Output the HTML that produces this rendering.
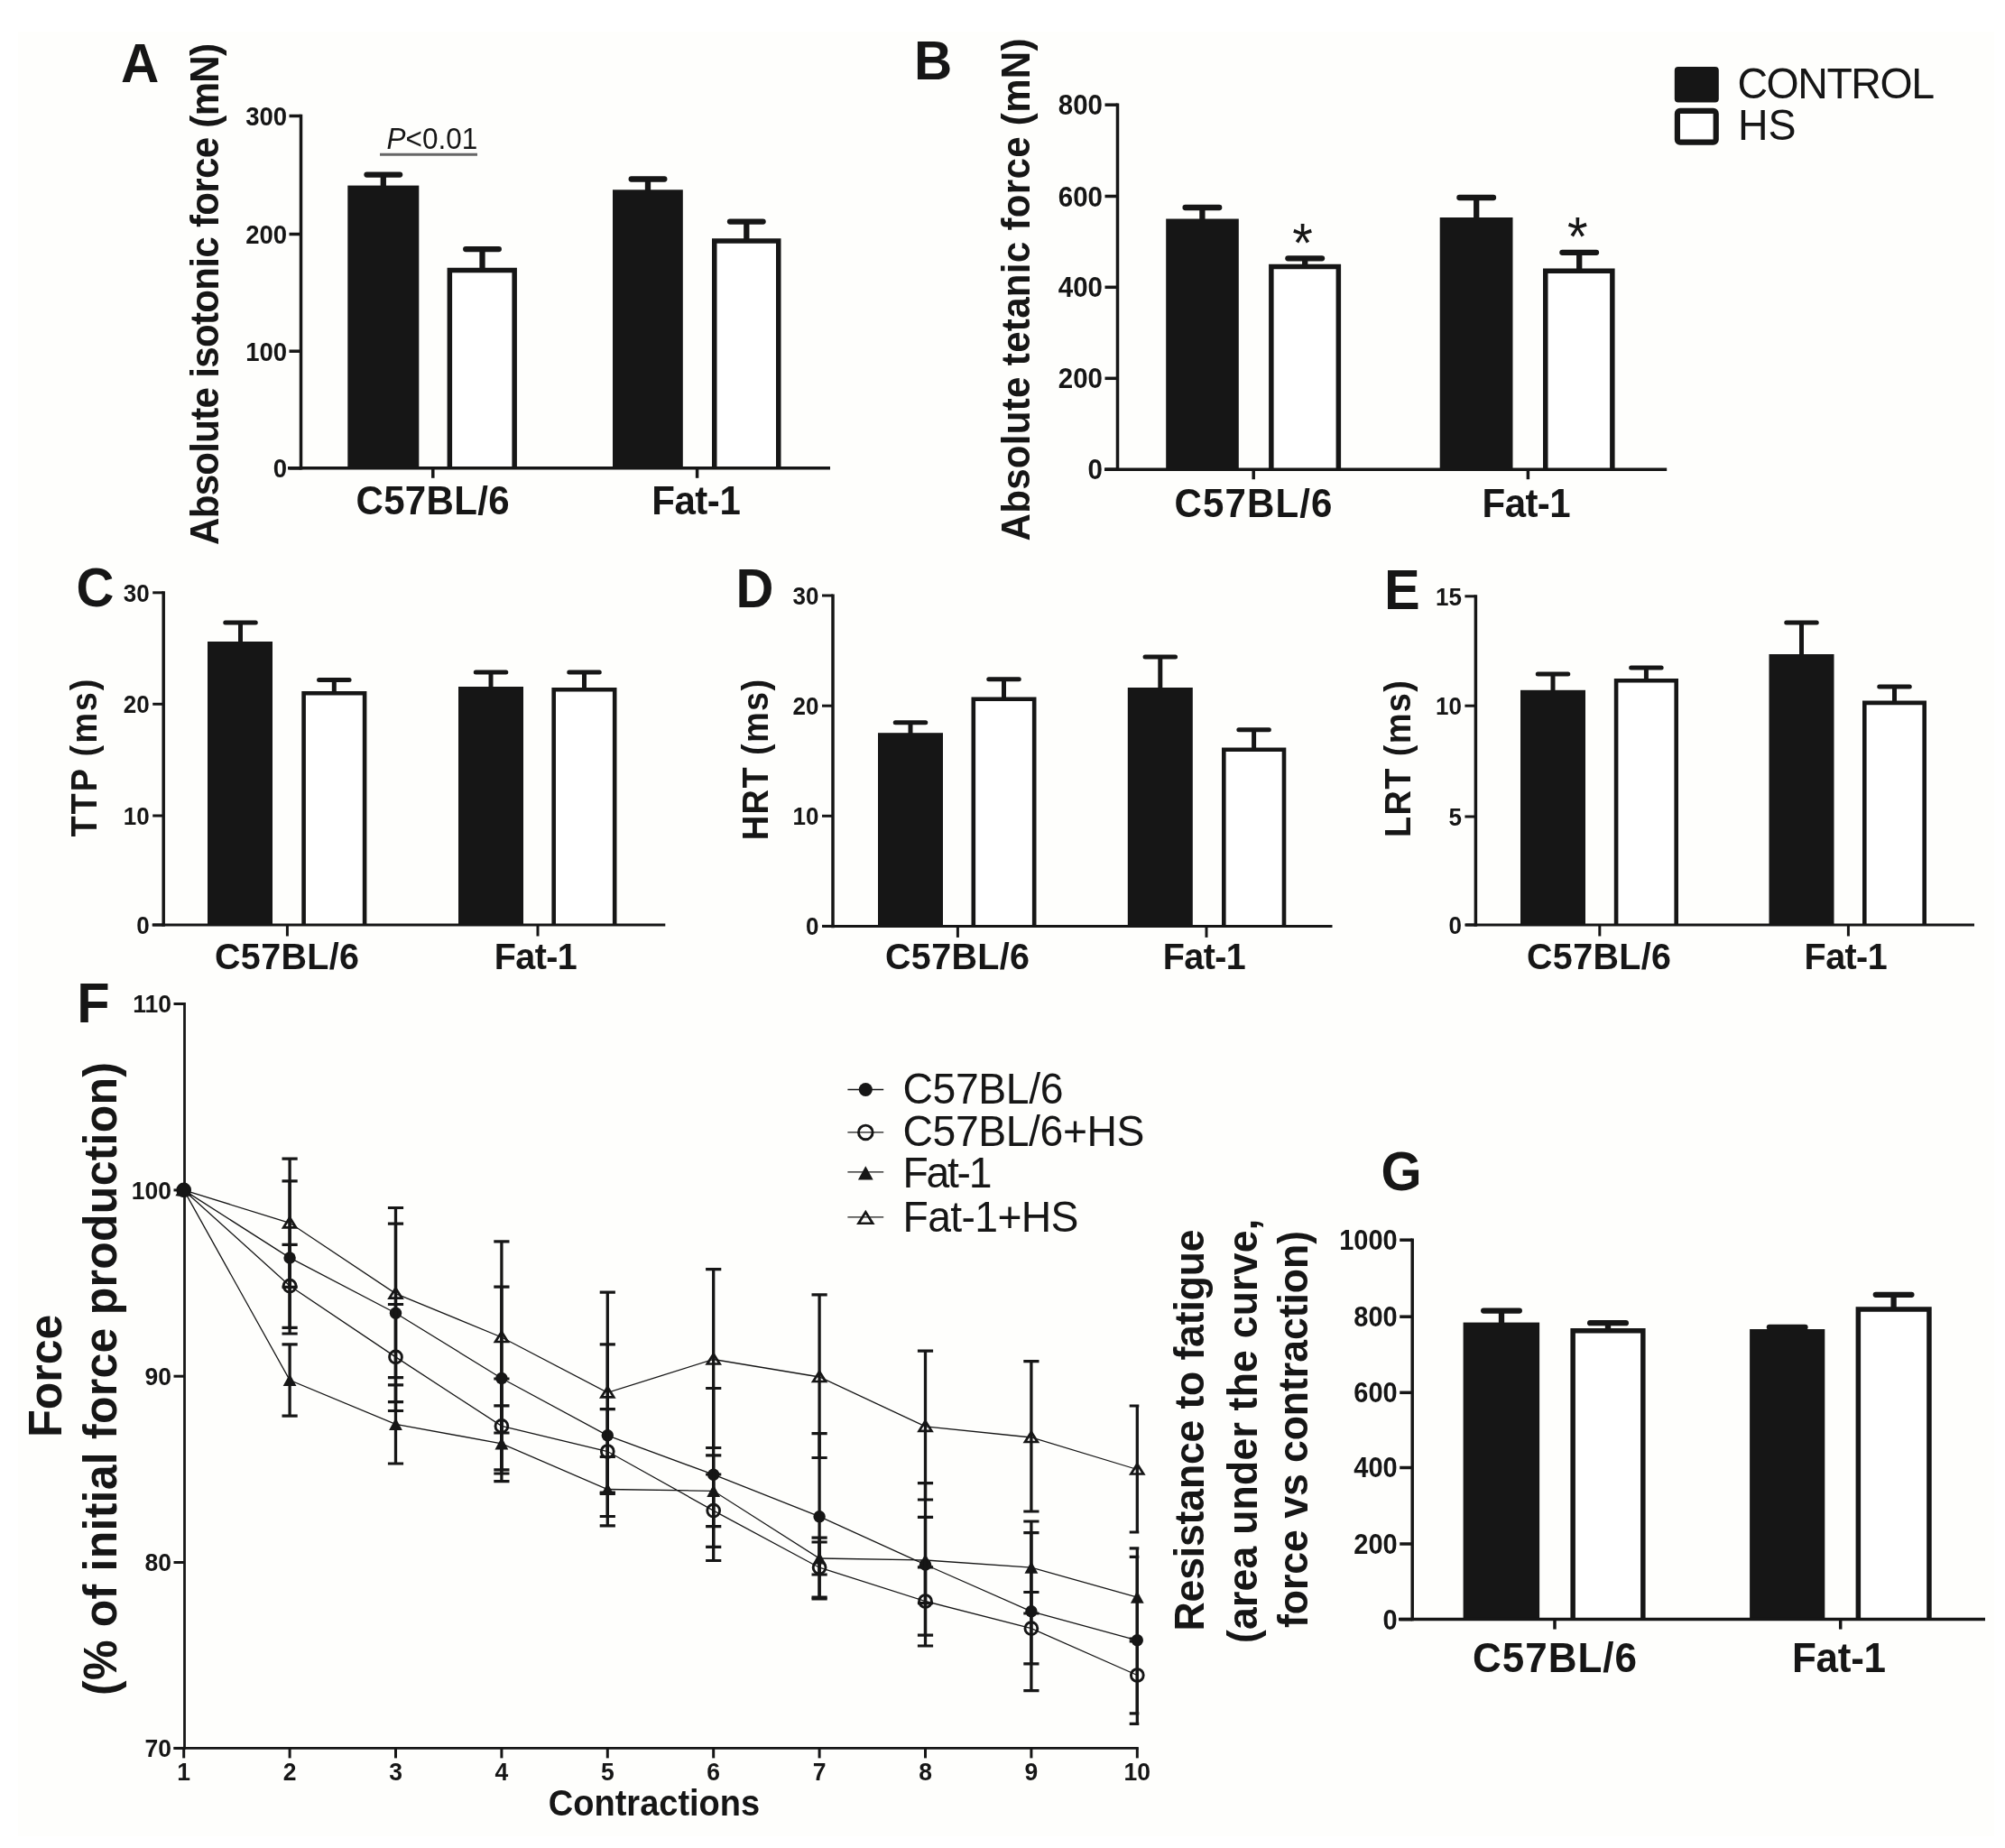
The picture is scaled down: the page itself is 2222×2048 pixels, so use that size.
<!DOCTYPE html>
<html lang="en"><head><meta charset="utf-8"><title>Figure</title>
<style>
html,body{margin:0;padding:0;background:#ffffff;}
body{width:2222px;height:2048px;overflow:hidden;}
svg{display:block;font-family:"Liberation Sans", Arial, Helvetica, sans-serif;filter:blur(0.75px);}
text{font-family:"Liberation Sans", Arial, Helvetica, sans-serif;}
</style></head><body>
<svg width="2222" height="2048" viewBox="0 0 2222 2048">
<rect x="0" y="0" width="2222" height="2048" fill="#ffffff"/>
<rect x="20" y="35" width="2190" height="2000" fill="#fefefc"/>
<rect x="385.3" y="205.6" width="79" height="313.2" fill="#161616"/>
<path d="M498.35 518.8V299.55H570.15V518.8" fill="#ffffff" stroke="#161616" stroke-width="5.5" stroke-linejoin="miter"/>
<rect x="679" y="210.3" width="77.8" height="308.5" fill="#161616"/>
<path d="M791.75 518.8V267.05H862.75V518.8" fill="#ffffff" stroke="#161616" stroke-width="5.5" stroke-linejoin="miter"/>
<line x1="424.8" y1="193.6" x2="424.8" y2="207" stroke="#161616" stroke-width="6.3" stroke-linecap="butt"/>
<line x1="406.5" y1="193.6" x2="443.1" y2="193.6" stroke="#161616" stroke-width="6.3" stroke-linecap="round"/>
<line x1="534.5" y1="276.1" x2="534.5" y2="298" stroke="#161616" stroke-width="6.3" stroke-linecap="butt"/>
<line x1="516.21" y1="276.1" x2="552.79" y2="276.1" stroke="#161616" stroke-width="6.3" stroke-linecap="round"/>
<line x1="718" y1="198.5" x2="718" y2="212" stroke="#161616" stroke-width="6.3" stroke-linecap="butt"/>
<line x1="699.71" y1="198.5" x2="736.29" y2="198.5" stroke="#161616" stroke-width="6.3" stroke-linecap="round"/>
<line x1="827.3" y1="245.6" x2="827.3" y2="266" stroke="#161616" stroke-width="6.3" stroke-linecap="butt"/>
<line x1="809" y1="245.6" x2="845.59" y2="245.6" stroke="#161616" stroke-width="6.3" stroke-linecap="round"/>
<line x1="333.5" y1="126.75" x2="333.5" y2="520.55" stroke="#161616" stroke-width="3.5" stroke-linecap="butt"/>
<line x1="319" y1="518.8" x2="920" y2="518.8" stroke="#161616" stroke-width="3.5" stroke-linecap="butt"/>
<line x1="320.5" y1="128.5" x2="333.5" y2="128.5" stroke="#161616" stroke-width="3.5" stroke-linecap="butt"/>
<text font-size="27.5" font-weight="bold" text-anchor="end" fill="#161616" transform="translate(318 138.84) scale(1 1.05)">300</text>
<line x1="320.5" y1="259.5" x2="333.5" y2="259.5" stroke="#161616" stroke-width="3.5" stroke-linecap="butt"/>
<text font-size="27.5" font-weight="bold" text-anchor="end" fill="#161616" transform="translate(318 269.84) scale(1 1.05)">200</text>
<line x1="320.5" y1="389.2" x2="333.5" y2="389.2" stroke="#161616" stroke-width="3.5" stroke-linecap="butt"/>
<text font-size="27.5" font-weight="bold" text-anchor="end" fill="#161616" transform="translate(318 399.54) scale(1 1.05)">100</text>
<line x1="320.5" y1="518.8" x2="333.5" y2="518.8" stroke="#161616" stroke-width="3.5" stroke-linecap="butt"/>
<text font-size="27.5" font-weight="bold" text-anchor="end" fill="#161616" transform="translate(318 529.14) scale(1 1.05)">0</text>
<line x1="479.8" y1="518.8" x2="479.8" y2="529.8" stroke="#161616" stroke-width="3.5" stroke-linecap="butt"/>
<line x1="772.6" y1="518.8" x2="772.6" y2="529.8" stroke="#161616" stroke-width="3.5" stroke-linecap="butt"/>
<text font-size="42" font-weight="bold" text-anchor="middle" fill="#161616" textLength="170" lengthAdjust="spacing" transform="translate(479.5 570.3) scale(1 1.05)">C57BL/6</text>
<text font-size="42" font-weight="bold" text-anchor="middle" fill="#161616" textLength="98.5" lengthAdjust="spacing" transform="translate(771.5 570.3) scale(1 1.05)">Fat-1</text>
<text font-size="42" font-weight="bold" text-anchor="middle" fill="#161616" textLength="556" lengthAdjust="spacing" transform="translate(241.5 326) rotate(-90) scale(1 1.05)">Absolute isotonic force (mN)</text>
<text font-size="58.5" font-weight="bold" text-anchor="start" fill="#161616" transform="translate(134 90.6) scale(1 1.05)">A</text>
<text font-size="31.5" font-weight="normal" text-anchor="start" fill="#161616" transform="translate(428.5 165.2) scale(1 1.05)"><tspan font-style="italic">P</tspan>&lt;0.01</text>
<line x1="421" y1="171.2" x2="529" y2="171.2" stroke="#666666" stroke-width="3" stroke-linecap="butt"/>
<rect x="1292.2" y="242.5" width="80.6" height="277.7" fill="#161616"/>
<path d="M1408.85 520.2V295.55H1483.35V520.2" fill="#ffffff" stroke="#161616" stroke-width="5.5" stroke-linejoin="miter"/>
<rect x="1595.7" y="241" width="80.8" height="279.2" fill="#161616"/>
<path d="M1712.75 520.2V300.25H1786.85V520.2" fill="#ffffff" stroke="#161616" stroke-width="5.5" stroke-linejoin="miter"/>
<line x1="1332.4" y1="230" x2="1332.4" y2="244" stroke="#161616" stroke-width="6.3" stroke-linecap="butt"/>
<line x1="1313.61" y1="230" x2="1351.2" y2="230" stroke="#161616" stroke-width="6.3" stroke-linecap="round"/>
<line x1="1446.2" y1="286.3" x2="1446.2" y2="295" stroke="#161616" stroke-width="6.3" stroke-linecap="butt"/>
<line x1="1427.4" y1="286.3" x2="1465" y2="286.3" stroke="#161616" stroke-width="6.3" stroke-linecap="round"/>
<line x1="1636.2" y1="219" x2="1636.2" y2="243" stroke="#161616" stroke-width="6.3" stroke-linecap="butt"/>
<line x1="1617.4" y1="219" x2="1655" y2="219" stroke="#161616" stroke-width="6.3" stroke-linecap="round"/>
<line x1="1750.2" y1="279.8" x2="1750.2" y2="300" stroke="#161616" stroke-width="6.3" stroke-linecap="butt"/>
<line x1="1731.4" y1="279.8" x2="1769" y2="279.8" stroke="#161616" stroke-width="6.3" stroke-linecap="round"/>
<line x1="1238.5" y1="114.45" x2="1238.5" y2="521.95" stroke="#161616" stroke-width="3.5" stroke-linecap="butt"/>
<line x1="1224" y1="520.2" x2="1847.2" y2="520.2" stroke="#161616" stroke-width="3.5" stroke-linecap="butt"/>
<line x1="1224.5" y1="116.2" x2="1238.5" y2="116.2" stroke="#161616" stroke-width="3.5" stroke-linecap="butt"/>
<text font-size="29.5" font-weight="bold" text-anchor="end" fill="#161616" transform="translate(1222 127.29) scale(1 1.05)">800</text>
<line x1="1224.5" y1="217.5" x2="1238.5" y2="217.5" stroke="#161616" stroke-width="3.5" stroke-linecap="butt"/>
<text font-size="29.5" font-weight="bold" text-anchor="end" fill="#161616" transform="translate(1222 228.59) scale(1 1.05)">600</text>
<line x1="1224.5" y1="318.3" x2="1238.5" y2="318.3" stroke="#161616" stroke-width="3.5" stroke-linecap="butt"/>
<text font-size="29.5" font-weight="bold" text-anchor="end" fill="#161616" transform="translate(1222 329.39) scale(1 1.05)">400</text>
<line x1="1224.5" y1="419.3" x2="1238.5" y2="419.3" stroke="#161616" stroke-width="3.5" stroke-linecap="butt"/>
<text font-size="29.5" font-weight="bold" text-anchor="end" fill="#161616" transform="translate(1222 430.39) scale(1 1.05)">200</text>
<line x1="1224.5" y1="520.2" x2="1238.5" y2="520.2" stroke="#161616" stroke-width="3.5" stroke-linecap="butt"/>
<text font-size="29.5" font-weight="bold" text-anchor="end" fill="#161616" transform="translate(1222 531.29) scale(1 1.05)">0</text>
<line x1="1389.2" y1="520.2" x2="1389.2" y2="531.2" stroke="#161616" stroke-width="3.5" stroke-linecap="butt"/>
<line x1="1693.4" y1="520.2" x2="1693.4" y2="531.2" stroke="#161616" stroke-width="3.5" stroke-linecap="butt"/>
<text font-size="42" font-weight="bold" text-anchor="middle" fill="#161616" textLength="175" lengthAdjust="spacing" transform="translate(1388.9 573) scale(1 1.05)">C57BL/6</text>
<text font-size="42" font-weight="bold" text-anchor="middle" fill="#161616" textLength="98" lengthAdjust="spacing" transform="translate(1691.6 573) scale(1 1.05)">Fat-1</text>
<text font-size="42" font-weight="bold" text-anchor="middle" fill="#161616" textLength="557" lengthAdjust="spacing" transform="translate(1140.5 321) rotate(-90) scale(1 1.05)">Absolute tetanic force (mN)</text>
<text font-size="58.5" font-weight="bold" text-anchor="start" fill="#161616" transform="translate(1013 88.4) scale(1 1.05)">B</text>
<text font-size="58" font-weight="normal" text-anchor="middle" fill="#161616" transform="translate(1443.6 290.3) scale(1 1.05)">*</text>
<text font-size="58" font-weight="normal" text-anchor="middle" fill="#161616" transform="translate(1748.4 283) scale(1 1.05)">*</text>
<rect x="1855.8" y="74" width="49" height="39.5" rx="4" fill="#161616"/>
<rect x="1858.9" y="122.9" width="42.8" height="34.8" rx="3" fill="#ffffff" stroke="#161616" stroke-width="6.2"/>
<text font-size="46.5" font-weight="normal" text-anchor="start" fill="#161616" textLength="218.5" lengthAdjust="spacing" transform="translate(1925.5 108.7) scale(1 1.05)">CONTROL</text>
<text font-size="46.5" font-weight="normal" text-anchor="start" fill="#161616" transform="translate(1926 155) scale(1 1.05)">HS</text>
<rect x="230" y="711" width="72" height="314" fill="#161616"/>
<path d="M336.6 1025V768.3H404.1V1025" fill="#ffffff" stroke="#161616" stroke-width="4.6" stroke-linejoin="miter"/>
<rect x="508" y="761" width="72" height="264" fill="#161616"/>
<path d="M613.7 1025V764.3H681.2V1025" fill="#ffffff" stroke="#161616" stroke-width="4.6" stroke-linejoin="miter"/>
<line x1="266.5" y1="690" x2="266.5" y2="712" stroke="#161616" stroke-width="5" stroke-linecap="butt"/>
<line x1="249.75" y1="690" x2="283.25" y2="690" stroke="#161616" stroke-width="5" stroke-linecap="round"/>
<line x1="370.3" y1="753.4" x2="370.3" y2="768" stroke="#161616" stroke-width="5" stroke-linecap="butt"/>
<line x1="353.55" y1="753.4" x2="387.05" y2="753.4" stroke="#161616" stroke-width="5" stroke-linecap="round"/>
<line x1="544" y1="745" x2="544" y2="763" stroke="#161616" stroke-width="5" stroke-linecap="butt"/>
<line x1="527.25" y1="745" x2="560.75" y2="745" stroke="#161616" stroke-width="5" stroke-linecap="round"/>
<line x1="647.5" y1="745" x2="647.5" y2="764" stroke="#161616" stroke-width="5" stroke-linecap="butt"/>
<line x1="630.75" y1="745" x2="664.25" y2="745" stroke="#161616" stroke-width="5" stroke-linecap="round"/>
<line x1="181.2" y1="655.3" x2="181.2" y2="1026.75" stroke="#161616" stroke-width="3.5" stroke-linecap="butt"/>
<line x1="168.7" y1="1025" x2="737.3" y2="1025" stroke="#161616" stroke-width="3" stroke-linecap="butt"/>
<line x1="169.2" y1="656.8" x2="181.2" y2="656.8" stroke="#161616" stroke-width="3" stroke-linecap="butt"/>
<text font-size="26" font-weight="bold" text-anchor="end" fill="#161616" transform="translate(165.7 666.57) scale(1 1.05)">30</text>
<line x1="169.2" y1="780.3" x2="181.2" y2="780.3" stroke="#161616" stroke-width="3" stroke-linecap="butt"/>
<text font-size="26" font-weight="bold" text-anchor="end" fill="#161616" transform="translate(165.7 790.07) scale(1 1.05)">20</text>
<line x1="169.2" y1="904" x2="181.2" y2="904" stroke="#161616" stroke-width="3" stroke-linecap="butt"/>
<text font-size="26" font-weight="bold" text-anchor="end" fill="#161616" transform="translate(165.7 913.77) scale(1 1.05)">10</text>
<line x1="169.2" y1="1025" x2="181.2" y2="1025" stroke="#161616" stroke-width="3" stroke-linecap="butt"/>
<text font-size="26" font-weight="bold" text-anchor="end" fill="#161616" transform="translate(165.7 1034.77) scale(1 1.05)">0</text>
<line x1="318.4" y1="1025" x2="318.4" y2="1037.5" stroke="#161616" stroke-width="3" stroke-linecap="butt"/>
<line x1="596" y1="1025" x2="596" y2="1037.5" stroke="#161616" stroke-width="3" stroke-linecap="butt"/>
<text font-size="39.5" font-weight="bold" text-anchor="middle" fill="#161616" textLength="160" lengthAdjust="spacing" transform="translate(318 1073.5) scale(1 1.05)">C57BL/6</text>
<text font-size="39.5" font-weight="bold" text-anchor="middle" fill="#161616" textLength="92" lengthAdjust="spacing" transform="translate(593.8 1073.5) scale(1 1.05)">Fat-1</text>
<text font-size="38" font-weight="bold" text-anchor="middle" fill="#161616" textLength="175" lengthAdjust="spacing" transform="translate(106.5 840) rotate(-90) scale(1 1.05)">TTP (ms)</text>
<text font-size="58" font-weight="bold" text-anchor="start" fill="#161616" transform="translate(84.5 672) scale(1 1.05)">C</text>
<rect x="973" y="812.2" width="72" height="214.2" fill="#161616"/>
<path d="M1078.8 1026.4V774.7H1146.2V1026.4" fill="#ffffff" stroke="#161616" stroke-width="4.6" stroke-linejoin="miter"/>
<rect x="1249.8" y="762" width="72" height="264.4" fill="#161616"/>
<path d="M1356.3 1026.4V830.8H1423V1026.4" fill="#ffffff" stroke="#161616" stroke-width="4.6" stroke-linejoin="miter"/>
<line x1="1009" y1="800.8" x2="1009" y2="814" stroke="#161616" stroke-width="5" stroke-linecap="butt"/>
<line x1="992.25" y1="800.8" x2="1025.75" y2="800.8" stroke="#161616" stroke-width="5" stroke-linecap="round"/>
<line x1="1112.5" y1="752.7" x2="1112.5" y2="774" stroke="#161616" stroke-width="5" stroke-linecap="butt"/>
<line x1="1095.75" y1="752.7" x2="1129.25" y2="752.7" stroke="#161616" stroke-width="5" stroke-linecap="round"/>
<line x1="1285.8" y1="728" x2="1285.8" y2="764" stroke="#161616" stroke-width="5" stroke-linecap="butt"/>
<line x1="1269.05" y1="728" x2="1302.55" y2="728" stroke="#161616" stroke-width="5" stroke-linecap="round"/>
<line x1="1389.6" y1="808.8" x2="1389.6" y2="830" stroke="#161616" stroke-width="5" stroke-linecap="butt"/>
<line x1="1372.85" y1="808.8" x2="1406.35" y2="808.8" stroke="#161616" stroke-width="5" stroke-linecap="round"/>
<line x1="923" y1="658.5" x2="923" y2="1028.15" stroke="#161616" stroke-width="3.5" stroke-linecap="butt"/>
<line x1="911.6" y1="1026.4" x2="1476.5" y2="1026.4" stroke="#161616" stroke-width="3" stroke-linecap="butt"/>
<line x1="911" y1="660" x2="923" y2="660" stroke="#161616" stroke-width="3" stroke-linecap="butt"/>
<text font-size="26" font-weight="bold" text-anchor="end" fill="#161616" transform="translate(907.5 669.77) scale(1 1.05)">30</text>
<line x1="911" y1="782.2" x2="923" y2="782.2" stroke="#161616" stroke-width="3" stroke-linecap="butt"/>
<text font-size="26" font-weight="bold" text-anchor="end" fill="#161616" transform="translate(907.5 791.97) scale(1 1.05)">20</text>
<line x1="911" y1="904.3" x2="923" y2="904.3" stroke="#161616" stroke-width="3" stroke-linecap="butt"/>
<text font-size="26" font-weight="bold" text-anchor="end" fill="#161616" transform="translate(907.5 914.07) scale(1 1.05)">10</text>
<line x1="911" y1="1026.4" x2="923" y2="1026.4" stroke="#161616" stroke-width="3" stroke-linecap="butt"/>
<text font-size="26" font-weight="bold" text-anchor="end" fill="#161616" transform="translate(907.5 1036.17) scale(1 1.05)">0</text>
<line x1="1061.4" y1="1026.4" x2="1061.4" y2="1038.9" stroke="#161616" stroke-width="3" stroke-linecap="butt"/>
<line x1="1337" y1="1026.4" x2="1337" y2="1038.9" stroke="#161616" stroke-width="3" stroke-linecap="butt"/>
<text font-size="39.5" font-weight="bold" text-anchor="middle" fill="#161616" textLength="160" lengthAdjust="spacing" transform="translate(1061 1074) scale(1 1.05)">C57BL/6</text>
<text font-size="39.5" font-weight="bold" text-anchor="middle" fill="#161616" textLength="92" lengthAdjust="spacing" transform="translate(1334.8 1074) scale(1 1.05)">Fat-1</text>
<text font-size="38" font-weight="bold" text-anchor="middle" fill="#161616" textLength="178.5" lengthAdjust="spacing" transform="translate(851 842) rotate(-90) scale(1 1.05)">HRT (ms)</text>
<text font-size="58" font-weight="bold" text-anchor="start" fill="#161616" transform="translate(815.5 672.5) scale(1 1.05)">D</text>
<rect x="1685" y="764.8" width="72" height="260.2" fill="#161616"/>
<path d="M1791.1 1025V754.3H1857.7V1025" fill="#ffffff" stroke="#161616" stroke-width="4.6" stroke-linejoin="miter"/>
<rect x="1960.5" y="725" width="72" height="300" fill="#161616"/>
<path d="M2066.3 1025V778.9H2132.7V1025" fill="#ffffff" stroke="#161616" stroke-width="4.6" stroke-linejoin="miter"/>
<line x1="1721" y1="747" x2="1721" y2="768" stroke="#161616" stroke-width="5" stroke-linecap="butt"/>
<line x1="1704.25" y1="747" x2="1737.75" y2="747" stroke="#161616" stroke-width="5" stroke-linecap="round"/>
<line x1="1824.4" y1="740" x2="1824.4" y2="754" stroke="#161616" stroke-width="5" stroke-linecap="butt"/>
<line x1="1807.65" y1="740" x2="1841.15" y2="740" stroke="#161616" stroke-width="5" stroke-linecap="round"/>
<line x1="1996.5" y1="690" x2="1996.5" y2="727" stroke="#161616" stroke-width="5" stroke-linecap="butt"/>
<line x1="1979.75" y1="690" x2="2013.25" y2="690" stroke="#161616" stroke-width="5" stroke-linecap="round"/>
<line x1="2099.5" y1="761" x2="2099.5" y2="778" stroke="#161616" stroke-width="5" stroke-linecap="butt"/>
<line x1="2082.75" y1="761" x2="2116.25" y2="761" stroke="#161616" stroke-width="5" stroke-linecap="round"/>
<line x1="1635.4" y1="659.3" x2="1635.4" y2="1026.75" stroke="#161616" stroke-width="3.5" stroke-linecap="butt"/>
<line x1="1624.2" y1="1025" x2="2188" y2="1025" stroke="#161616" stroke-width="3" stroke-linecap="butt"/>
<line x1="1623.4" y1="660.8" x2="1635.4" y2="660.8" stroke="#161616" stroke-width="3" stroke-linecap="butt"/>
<text font-size="26" font-weight="bold" text-anchor="end" fill="#161616" transform="translate(1619.9 670.57) scale(1 1.05)">15</text>
<line x1="1623.4" y1="782.2" x2="1635.4" y2="782.2" stroke="#161616" stroke-width="3" stroke-linecap="butt"/>
<text font-size="26" font-weight="bold" text-anchor="end" fill="#161616" transform="translate(1619.9 791.97) scale(1 1.05)">10</text>
<line x1="1623.4" y1="905" x2="1635.4" y2="905" stroke="#161616" stroke-width="3" stroke-linecap="butt"/>
<text font-size="26" font-weight="bold" text-anchor="end" fill="#161616" transform="translate(1619.9 914.77) scale(1 1.05)">5</text>
<line x1="1623.4" y1="1025" x2="1635.4" y2="1025" stroke="#161616" stroke-width="3" stroke-linecap="butt"/>
<text font-size="26" font-weight="bold" text-anchor="end" fill="#161616" transform="translate(1619.9 1034.77) scale(1 1.05)">0</text>
<line x1="1772.8" y1="1025" x2="1772.8" y2="1037.5" stroke="#161616" stroke-width="3" stroke-linecap="butt"/>
<line x1="2048.4" y1="1025" x2="2048.4" y2="1037.5" stroke="#161616" stroke-width="3" stroke-linecap="butt"/>
<text font-size="39.5" font-weight="bold" text-anchor="middle" fill="#161616" textLength="160" lengthAdjust="spacing" transform="translate(1772 1074) scale(1 1.05)">C57BL/6</text>
<text font-size="39.5" font-weight="bold" text-anchor="middle" fill="#161616" textLength="92" lengthAdjust="spacing" transform="translate(2045.6 1074) scale(1 1.05)">Fat-1</text>
<text font-size="38" font-weight="bold" text-anchor="middle" fill="#161616" textLength="174" lengthAdjust="spacing" transform="translate(1563.3 841) rotate(-90) scale(1 1.05)">LRT (ms)</text>
<text font-size="59.5" font-weight="bold" text-anchor="start" fill="#161616" transform="translate(1534 674.5) scale(1 1.05)">E</text>
<rect x="1621.6" y="1465.6" width="84.5" height="329" fill="#161616"/>
<path d="M1743.15 1794.6V1474.75H1820.85V1794.6" fill="#ffffff" stroke="#161616" stroke-width="5.5" stroke-linejoin="miter"/>
<rect x="1939.1" y="1473" width="83.2" height="321.6" fill="#161616"/>
<path d="M2059.35 1794.6V1450.95H2137.95V1794.6" fill="#ffffff" stroke="#161616" stroke-width="5.5" stroke-linejoin="miter"/>
<line x1="1664" y1="1452.6" x2="1664" y2="1468" stroke="#161616" stroke-width="6.3" stroke-linecap="butt"/>
<line x1="1644.2" y1="1452.6" x2="1683.8" y2="1452.6" stroke="#161616" stroke-width="6.3" stroke-linecap="round"/>
<line x1="1782" y1="1466.2" x2="1782" y2="1475" stroke="#161616" stroke-width="6.3" stroke-linecap="butt"/>
<line x1="1762.2" y1="1466.2" x2="1801.8" y2="1466.2" stroke="#161616" stroke-width="6.3" stroke-linecap="round"/>
<line x1="1980.7" y1="1470.8" x2="1980.7" y2="1475" stroke="#161616" stroke-width="6.3" stroke-linecap="butt"/>
<line x1="1960.9" y1="1470.8" x2="2000.5" y2="1470.8" stroke="#161616" stroke-width="6.3" stroke-linecap="round"/>
<line x1="2098.6" y1="1434.8" x2="2098.6" y2="1451" stroke="#161616" stroke-width="6.3" stroke-linecap="butt"/>
<line x1="2078.8" y1="1434.8" x2="2118.39" y2="1434.8" stroke="#161616" stroke-width="6.3" stroke-linecap="round"/>
<line x1="1565.2" y1="1372.45" x2="1565.2" y2="1796.35" stroke="#161616" stroke-width="3.5" stroke-linecap="butt"/>
<line x1="1550" y1="1794.6" x2="2200" y2="1794.6" stroke="#161616" stroke-width="3.5" stroke-linecap="butt"/>
<line x1="1551.2" y1="1374.2" x2="1565.2" y2="1374.2" stroke="#161616" stroke-width="3.5" stroke-linecap="butt"/>
<text font-size="29" font-weight="bold" text-anchor="end" fill="#161616" transform="translate(1548.7 1385.1) scale(1 1.05)">1000</text>
<line x1="1551.2" y1="1459.2" x2="1565.2" y2="1459.2" stroke="#161616" stroke-width="3.5" stroke-linecap="butt"/>
<text font-size="29" font-weight="bold" text-anchor="end" fill="#161616" transform="translate(1548.7 1470.1) scale(1 1.05)">800</text>
<line x1="1551.2" y1="1543.3" x2="1565.2" y2="1543.3" stroke="#161616" stroke-width="3.5" stroke-linecap="butt"/>
<text font-size="29" font-weight="bold" text-anchor="end" fill="#161616" transform="translate(1548.7 1554.2) scale(1 1.05)">600</text>
<line x1="1551.2" y1="1626.5" x2="1565.2" y2="1626.5" stroke="#161616" stroke-width="3.5" stroke-linecap="butt"/>
<text font-size="29" font-weight="bold" text-anchor="end" fill="#161616" transform="translate(1548.7 1637.4) scale(1 1.05)">400</text>
<line x1="1551.2" y1="1711" x2="1565.2" y2="1711" stroke="#161616" stroke-width="3.5" stroke-linecap="butt"/>
<text font-size="29" font-weight="bold" text-anchor="end" fill="#161616" transform="translate(1548.7 1721.9) scale(1 1.05)">200</text>
<line x1="1551.2" y1="1794.6" x2="1565.2" y2="1794.6" stroke="#161616" stroke-width="3.5" stroke-linecap="butt"/>
<text font-size="29" font-weight="bold" text-anchor="end" fill="#161616" transform="translate(1548.7 1805.5) scale(1 1.05)">0</text>
<line x1="1723" y1="1794.6" x2="1723" y2="1805.6" stroke="#161616" stroke-width="3.5" stroke-linecap="butt"/>
<line x1="2039.7" y1="1794.6" x2="2039.7" y2="1805.6" stroke="#161616" stroke-width="3.5" stroke-linecap="butt"/>
<text font-size="44" font-weight="bold" text-anchor="middle" fill="#161616" textLength="182" lengthAdjust="spacing" transform="translate(1723 1853) scale(1 1.05)">C57BL/6</text>
<text font-size="44" font-weight="bold" text-anchor="middle" fill="#161616" textLength="104" lengthAdjust="spacing" transform="translate(2038 1853) scale(1 1.05)">Fat-1</text>
<text font-size="44.5" font-weight="bold" text-anchor="middle" fill="#161616" textLength="445" lengthAdjust="spacing" transform="translate(1334 1585) rotate(-90) scale(1 1.05)">Resistance to fatigue</text>
<text font-size="44.5" font-weight="bold" text-anchor="middle" fill="#161616" textLength="470" lengthAdjust="spacing" transform="translate(1393 1586) rotate(-90) scale(1 1.05)">(area under the curve,</text>
<text font-size="44.5" font-weight="bold" text-anchor="middle" fill="#161616" textLength="440" lengthAdjust="spacing" transform="translate(1448.5 1584) rotate(-90) scale(1 1.05)">force vs contraction)</text>
<text font-size="58" font-weight="bold" text-anchor="start" fill="#161616" transform="translate(1530.5 1319.3) scale(1 1.05)">G</text>
<line x1="204.5" y1="1111" x2="204.5" y2="1938.8" stroke="#161616" stroke-width="2.8" stroke-linecap="butt"/>
<line x1="192.5" y1="1937.4" x2="1261.8" y2="1937.4" stroke="#161616" stroke-width="2.8" stroke-linecap="butt"/>
<line x1="192.5" y1="1112.5" x2="204.5" y2="1112.5" stroke="#161616" stroke-width="3" stroke-linecap="butt"/>
<text font-size="26.5" font-weight="bold" text-anchor="end" fill="#161616" transform="translate(190 1122.3) scale(1 1.05)">110</text>
<line x1="192.5" y1="1318.9" x2="204.5" y2="1318.9" stroke="#161616" stroke-width="3" stroke-linecap="butt"/>
<text font-size="26.5" font-weight="bold" text-anchor="end" fill="#161616" transform="translate(190 1328.7) scale(1 1.05)">100</text>
<line x1="192.5" y1="1525.2" x2="204.5" y2="1525.2" stroke="#161616" stroke-width="3" stroke-linecap="butt"/>
<text font-size="26.5" font-weight="bold" text-anchor="end" fill="#161616" transform="translate(190 1535) scale(1 1.05)">90</text>
<line x1="192.5" y1="1731.5" x2="204.5" y2="1731.5" stroke="#161616" stroke-width="3" stroke-linecap="butt"/>
<text font-size="26.5" font-weight="bold" text-anchor="end" fill="#161616" transform="translate(190 1741.3) scale(1 1.05)">80</text>
<line x1="192.5" y1="1937.4" x2="204.5" y2="1937.4" stroke="#161616" stroke-width="3" stroke-linecap="butt"/>
<text font-size="26.5" font-weight="bold" text-anchor="end" fill="#161616" transform="translate(190 1947.2) scale(1 1.05)">70</text>
<line x1="203.7" y1="1937.4" x2="203.7" y2="1948.4" stroke="#161616" stroke-width="3" stroke-linecap="butt"/>
<text font-size="26.5" font-weight="bold" text-anchor="middle" fill="#161616" transform="translate(203.7 1973) scale(1 1.05)">1</text>
<line x1="321.1" y1="1937.4" x2="321.1" y2="1948.4" stroke="#161616" stroke-width="3" stroke-linecap="butt"/>
<text font-size="26.5" font-weight="bold" text-anchor="middle" fill="#161616" transform="translate(321.1 1973) scale(1 1.05)">2</text>
<line x1="438.5" y1="1937.4" x2="438.5" y2="1948.4" stroke="#161616" stroke-width="3" stroke-linecap="butt"/>
<text font-size="26.5" font-weight="bold" text-anchor="middle" fill="#161616" transform="translate(438.5 1973) scale(1 1.05)">3</text>
<line x1="555.9" y1="1937.4" x2="555.9" y2="1948.4" stroke="#161616" stroke-width="3" stroke-linecap="butt"/>
<text font-size="26.5" font-weight="bold" text-anchor="middle" fill="#161616" transform="translate(555.9 1973) scale(1 1.05)">4</text>
<line x1="673.3" y1="1937.4" x2="673.3" y2="1948.4" stroke="#161616" stroke-width="3" stroke-linecap="butt"/>
<text font-size="26.5" font-weight="bold" text-anchor="middle" fill="#161616" transform="translate(673.3 1973) scale(1 1.05)">5</text>
<line x1="790.7" y1="1937.4" x2="790.7" y2="1948.4" stroke="#161616" stroke-width="3" stroke-linecap="butt"/>
<text font-size="26.5" font-weight="bold" text-anchor="middle" fill="#161616" transform="translate(790.7 1973) scale(1 1.05)">6</text>
<line x1="908.1" y1="1937.4" x2="908.1" y2="1948.4" stroke="#161616" stroke-width="3" stroke-linecap="butt"/>
<text font-size="26.5" font-weight="bold" text-anchor="middle" fill="#161616" transform="translate(908.1 1973) scale(1 1.05)">7</text>
<line x1="1025.5" y1="1937.4" x2="1025.5" y2="1948.4" stroke="#161616" stroke-width="3" stroke-linecap="butt"/>
<text font-size="26.5" font-weight="bold" text-anchor="middle" fill="#161616" transform="translate(1025.5 1973) scale(1 1.05)">8</text>
<line x1="1142.9" y1="1937.4" x2="1142.9" y2="1948.4" stroke="#161616" stroke-width="3" stroke-linecap="butt"/>
<text font-size="26.5" font-weight="bold" text-anchor="middle" fill="#161616" transform="translate(1142.9 1973) scale(1 1.05)">9</text>
<line x1="1260.3" y1="1937.4" x2="1260.3" y2="1948.4" stroke="#161616" stroke-width="3" stroke-linecap="butt"/>
<text font-size="26.5" font-weight="bold" text-anchor="middle" fill="#161616" transform="translate(1260.3 1973) scale(1 1.05)">10</text>
<text font-size="38" font-weight="bold" text-anchor="middle" fill="#161616" transform="translate(725 2011.5) scale(1 1.05)">Contractions</text>
<text font-size="59.5" font-weight="bold" text-anchor="start" fill="#161616" transform="translate(85.2 1133) scale(1 1.05)">F</text>
<text font-size="50" font-weight="bold" text-anchor="middle" fill="#161616" transform="translate(68.3 1524.8) rotate(-90) scale(1 1.05)">Force</text>
<text font-size="50" font-weight="bold" text-anchor="middle" fill="#161616" textLength="702" lengthAdjust="spacing" transform="translate(129 1528) rotate(-90) scale(1 1.05)">(% of initial force production)</text>
<clipPath id="fclip"><rect x="150" y="1100" width="1112.3" height="900"/></clipPath>
<polyline fill="none" stroke="#161616" stroke-width="1.3" points="203.7,1318.9 321.1,1393.9 438.5,1455.2 555.9,1527.5 673.3,1590.8 790.7,1634.2 908.1,1680.7 1025.5,1734 1142.9,1785.8 1260.3,1817.8"/>
<polyline fill="none" stroke="#161616" stroke-width="1.3" points="203.7,1318.9 321.1,1425.1 438.5,1503.9 555.9,1580.4 673.3,1608.5 790.7,1674.1 908.1,1737.2 1025.5,1774.5 1142.9,1804.7 1260.3,1856.5"/>
<polyline fill="none" stroke="#161616" stroke-width="1.3" points="203.7,1318.9 321.1,1529.5 438.5,1578.4 555.9,1599.8 673.3,1650.5 790.7,1652.3 908.1,1727 1025.5,1729 1142.9,1737.2 1260.3,1770.1"/>
<polyline fill="none" stroke="#161616" stroke-width="1.3" points="203.7,1318.9 321.1,1355.3 438.5,1433.6 555.9,1482 673.3,1543.3 790.7,1506.5 908.1,1526 1025.5,1580.9 1142.9,1593 1260.3,1628.5"/>
<circle cx="321.1" cy="1393.9" r="6.7" fill="#161616"/>
<circle cx="438.5" cy="1455.2" r="6.7" fill="#161616"/>
<circle cx="555.9" cy="1527.5" r="6.7" fill="#161616"/>
<circle cx="673.3" cy="1590.8" r="6.7" fill="#161616"/>
<circle cx="790.7" cy="1634.2" r="6.7" fill="#161616"/>
<circle cx="908.1" cy="1680.7" r="6.7" fill="#161616"/>
<circle cx="1025.5" cy="1734" r="6.7" fill="#161616"/>
<circle cx="1142.9" cy="1785.8" r="6.7" fill="#161616"/>
<circle cx="1260.3" cy="1817.8" r="6.7" fill="#161616"/>
<circle cx="321.1" cy="1425.1" r="6.9" fill="none" stroke="#161616" stroke-width="2.9"/>
<circle cx="438.5" cy="1503.9" r="6.9" fill="none" stroke="#161616" stroke-width="2.9"/>
<circle cx="555.9" cy="1580.4" r="6.9" fill="none" stroke="#161616" stroke-width="2.9"/>
<circle cx="673.3" cy="1608.5" r="6.9" fill="none" stroke="#161616" stroke-width="2.9"/>
<circle cx="790.7" cy="1674.1" r="6.9" fill="none" stroke="#161616" stroke-width="2.9"/>
<circle cx="908.1" cy="1737.2" r="6.9" fill="none" stroke="#161616" stroke-width="2.9"/>
<circle cx="1025.5" cy="1774.5" r="6.9" fill="none" stroke="#161616" stroke-width="2.9"/>
<circle cx="1142.9" cy="1804.7" r="6.9" fill="none" stroke="#161616" stroke-width="2.9"/>
<circle cx="1260.3" cy="1856.5" r="6.9" fill="none" stroke="#161616" stroke-width="2.9"/>
<polygon points="321.1,1522.5 328.5,1536.1 313.7,1536.1" fill="#161616"/>
<polygon points="438.5,1571.4 445.9,1585 431.1,1585" fill="#161616"/>
<polygon points="555.9,1592.8 563.3,1606.4 548.5,1606.4" fill="#161616"/>
<polygon points="673.3,1643.5 680.7,1657.1 665.9,1657.1" fill="#161616"/>
<polygon points="790.7,1645.3 798.1,1658.9 783.3,1658.9" fill="#161616"/>
<polygon points="908.1,1720 915.5,1733.6 900.7,1733.6" fill="#161616"/>
<polygon points="1025.5,1722 1032.9,1735.6 1018.1,1735.6" fill="#161616"/>
<polygon points="1142.9,1730.2 1150.3,1743.8 1135.5,1743.8" fill="#161616"/>
<polygon points="1260.3,1763.1 1267.7,1776.7 1252.9,1776.7" fill="#161616"/>
<polygon points="321.1,1349.3 328,1360.3 314.2,1360.3" fill="none" stroke="#161616" stroke-width="2.7" stroke-linejoin="miter"/>
<polygon points="438.5,1427.6 445.4,1438.6 431.6,1438.6" fill="none" stroke="#161616" stroke-width="2.7" stroke-linejoin="miter"/>
<polygon points="555.9,1476 562.8,1487 549,1487" fill="none" stroke="#161616" stroke-width="2.7" stroke-linejoin="miter"/>
<polygon points="673.3,1537.3 680.2,1548.3 666.4,1548.3" fill="none" stroke="#161616" stroke-width="2.7" stroke-linejoin="miter"/>
<polygon points="790.7,1500.5 797.6,1511.5 783.8,1511.5" fill="none" stroke="#161616" stroke-width="2.7" stroke-linejoin="miter"/>
<polygon points="908.1,1520 915,1531 901.2,1531" fill="none" stroke="#161616" stroke-width="2.7" stroke-linejoin="miter"/>
<polygon points="1025.5,1574.9 1032.4,1585.9 1018.6,1585.9" fill="none" stroke="#161616" stroke-width="2.7" stroke-linejoin="miter"/>
<polygon points="1142.9,1587 1149.8,1598 1136,1598" fill="none" stroke="#161616" stroke-width="2.7" stroke-linejoin="miter"/>
<polygon points="1260.3,1622.5 1267.2,1633.5 1253.4,1633.5" fill="none" stroke="#161616" stroke-width="2.7" stroke-linejoin="miter"/>
<circle cx="203.7" cy="1318.9" r="6.9" fill="none" stroke="#161616" stroke-width="2.9"/>
<polygon points="203.7,1312.9 210.6,1323.9 196.8,1323.9" fill="none" stroke="#161616" stroke-width="2.7" stroke-linejoin="miter"/>
<circle cx="203.7" cy="1318.9" r="6.7" fill="#161616"/>
<polygon points="203.7,1311.9 211.1,1325.5 196.3,1325.5" fill="#161616"/>
<g clip-path="url(#fclip)">
<line x1="321.1" y1="1308.9" x2="321.1" y2="1478" stroke="#161616" stroke-width="3.3" stroke-linecap="butt"/>
<line x1="312.5" y1="1308.9" x2="329.7" y2="1308.9" stroke="#161616" stroke-width="3.2" stroke-linecap="butt"/>
<line x1="312.5" y1="1478" x2="329.7" y2="1478" stroke="#161616" stroke-width="3.2" stroke-linecap="butt"/>
<line x1="438.5" y1="1356.2" x2="438.5" y2="1553.6" stroke="#161616" stroke-width="3.3" stroke-linecap="butt"/>
<line x1="429.9" y1="1356.2" x2="447.1" y2="1356.2" stroke="#161616" stroke-width="3.2" stroke-linecap="butt"/>
<line x1="429.9" y1="1553.6" x2="447.1" y2="1553.6" stroke="#161616" stroke-width="3.2" stroke-linecap="butt"/>
<line x1="555.9" y1="1426.2" x2="555.9" y2="1628.8" stroke="#161616" stroke-width="3.3" stroke-linecap="butt"/>
<line x1="547.3" y1="1426.2" x2="564.5" y2="1426.2" stroke="#161616" stroke-width="3.2" stroke-linecap="butt"/>
<line x1="547.3" y1="1628.8" x2="564.5" y2="1628.8" stroke="#161616" stroke-width="3.2" stroke-linecap="butt"/>
<line x1="673.3" y1="1489.8" x2="673.3" y2="1690.8" stroke="#161616" stroke-width="3.3" stroke-linecap="butt"/>
<line x1="664.7" y1="1489.8" x2="681.9" y2="1489.8" stroke="#161616" stroke-width="3.2" stroke-linecap="butt"/>
<line x1="664.7" y1="1690.8" x2="681.9" y2="1690.8" stroke="#161616" stroke-width="3.2" stroke-linecap="butt"/>
<line x1="790.7" y1="1538.5" x2="790.7" y2="1729.5" stroke="#161616" stroke-width="3.3" stroke-linecap="butt"/>
<line x1="782.1" y1="1538.5" x2="799.3" y2="1538.5" stroke="#161616" stroke-width="3.2" stroke-linecap="butt"/>
<line x1="782.1" y1="1729.5" x2="799.3" y2="1729.5" stroke="#161616" stroke-width="3.2" stroke-linecap="butt"/>
<line x1="908.1" y1="1588.7" x2="908.1" y2="1772" stroke="#161616" stroke-width="3.3" stroke-linecap="butt"/>
<line x1="899.5" y1="1588.7" x2="916.7" y2="1588.7" stroke="#161616" stroke-width="3.2" stroke-linecap="butt"/>
<line x1="899.5" y1="1772" x2="916.7" y2="1772" stroke="#161616" stroke-width="3.2" stroke-linecap="butt"/>
<line x1="1025.5" y1="1643.7" x2="1025.5" y2="1824" stroke="#161616" stroke-width="3.3" stroke-linecap="butt"/>
<line x1="1016.9" y1="1643.7" x2="1034.1" y2="1643.7" stroke="#161616" stroke-width="3.2" stroke-linecap="butt"/>
<line x1="1016.9" y1="1824" x2="1034.1" y2="1824" stroke="#161616" stroke-width="3.2" stroke-linecap="butt"/>
<line x1="1142.9" y1="1698.6" x2="1142.9" y2="1873.7" stroke="#161616" stroke-width="3.3" stroke-linecap="butt"/>
<line x1="1134.3" y1="1698.6" x2="1151.5" y2="1698.6" stroke="#161616" stroke-width="3.2" stroke-linecap="butt"/>
<line x1="1134.3" y1="1873.7" x2="1151.5" y2="1873.7" stroke="#161616" stroke-width="3.2" stroke-linecap="butt"/>
<line x1="1260.3" y1="1725.3" x2="1260.3" y2="1910.4" stroke="#161616" stroke-width="3.3" stroke-linecap="butt"/>
<line x1="1251.7" y1="1725.3" x2="1268.9" y2="1725.3" stroke="#161616" stroke-width="3.2" stroke-linecap="butt"/>
<line x1="1251.7" y1="1910.4" x2="1268.9" y2="1910.4" stroke="#161616" stroke-width="3.2" stroke-linecap="butt"/>
<line x1="321.1" y1="1379.3" x2="321.1" y2="1471.3" stroke="#161616" stroke-width="3.3" stroke-linecap="butt"/>
<line x1="312.5" y1="1379.3" x2="329.7" y2="1379.3" stroke="#161616" stroke-width="3.2" stroke-linecap="butt"/>
<line x1="312.5" y1="1471.3" x2="329.7" y2="1471.3" stroke="#161616" stroke-width="3.2" stroke-linecap="butt"/>
<line x1="438.5" y1="1445.5" x2="438.5" y2="1563.5" stroke="#161616" stroke-width="3.3" stroke-linecap="butt"/>
<line x1="429.9" y1="1445.5" x2="447.1" y2="1445.5" stroke="#161616" stroke-width="3.2" stroke-linecap="butt"/>
<line x1="429.9" y1="1563.5" x2="447.1" y2="1563.5" stroke="#161616" stroke-width="3.2" stroke-linecap="butt"/>
<line x1="555.9" y1="1528" x2="555.9" y2="1633" stroke="#161616" stroke-width="3.3" stroke-linecap="butt"/>
<line x1="547.3" y1="1528" x2="564.5" y2="1528" stroke="#161616" stroke-width="3.2" stroke-linecap="butt"/>
<line x1="547.3" y1="1633" x2="564.5" y2="1633" stroke="#161616" stroke-width="3.2" stroke-linecap="butt"/>
<line x1="673.3" y1="1561.6" x2="673.3" y2="1655.4" stroke="#161616" stroke-width="3.3" stroke-linecap="butt"/>
<line x1="664.7" y1="1561.6" x2="681.9" y2="1561.6" stroke="#161616" stroke-width="3.2" stroke-linecap="butt"/>
<line x1="664.7" y1="1655.4" x2="681.9" y2="1655.4" stroke="#161616" stroke-width="3.2" stroke-linecap="butt"/>
<line x1="790.7" y1="1634" x2="790.7" y2="1714.3" stroke="#161616" stroke-width="3.3" stroke-linecap="butt"/>
<line x1="782.1" y1="1634" x2="799.3" y2="1634" stroke="#161616" stroke-width="3.2" stroke-linecap="butt"/>
<line x1="782.1" y1="1714.3" x2="799.3" y2="1714.3" stroke="#161616" stroke-width="3.2" stroke-linecap="butt"/>
<line x1="908.1" y1="1704.2" x2="908.1" y2="1770.2" stroke="#161616" stroke-width="3.3" stroke-linecap="butt"/>
<line x1="899.5" y1="1704.2" x2="916.7" y2="1704.2" stroke="#161616" stroke-width="3.2" stroke-linecap="butt"/>
<line x1="899.5" y1="1770.2" x2="916.7" y2="1770.2" stroke="#161616" stroke-width="3.2" stroke-linecap="butt"/>
<line x1="1025.5" y1="1736.8" x2="1025.5" y2="1812.2" stroke="#161616" stroke-width="3.3" stroke-linecap="butt"/>
<line x1="1016.9" y1="1736.8" x2="1034.1" y2="1736.8" stroke="#161616" stroke-width="3.2" stroke-linecap="butt"/>
<line x1="1016.9" y1="1812.2" x2="1034.1" y2="1812.2" stroke="#161616" stroke-width="3.2" stroke-linecap="butt"/>
<line x1="1142.9" y1="1764.5" x2="1142.9" y2="1843.9" stroke="#161616" stroke-width="3.3" stroke-linecap="butt"/>
<line x1="1134.3" y1="1764.5" x2="1151.5" y2="1764.5" stroke="#161616" stroke-width="3.2" stroke-linecap="butt"/>
<line x1="1134.3" y1="1843.9" x2="1151.5" y2="1843.9" stroke="#161616" stroke-width="3.2" stroke-linecap="butt"/>
<line x1="1260.3" y1="1816" x2="1260.3" y2="1898.8" stroke="#161616" stroke-width="3.3" stroke-linecap="butt"/>
<line x1="1251.7" y1="1816" x2="1268.9" y2="1816" stroke="#161616" stroke-width="3.2" stroke-linecap="butt"/>
<line x1="1251.7" y1="1898.8" x2="1268.9" y2="1898.8" stroke="#161616" stroke-width="3.2" stroke-linecap="butt"/>
<line x1="321.1" y1="1489.8" x2="321.1" y2="1569.2" stroke="#161616" stroke-width="3.3" stroke-linecap="butt"/>
<line x1="312.5" y1="1489.8" x2="329.7" y2="1489.8" stroke="#161616" stroke-width="3.2" stroke-linecap="butt"/>
<line x1="312.5" y1="1569.2" x2="329.7" y2="1569.2" stroke="#161616" stroke-width="3.2" stroke-linecap="butt"/>
<line x1="438.5" y1="1534.8" x2="438.5" y2="1622" stroke="#161616" stroke-width="3.3" stroke-linecap="butt"/>
<line x1="429.9" y1="1534.8" x2="447.1" y2="1534.8" stroke="#161616" stroke-width="3.2" stroke-linecap="butt"/>
<line x1="429.9" y1="1622" x2="447.1" y2="1622" stroke="#161616" stroke-width="3.2" stroke-linecap="butt"/>
<line x1="555.9" y1="1557.9" x2="555.9" y2="1641.7" stroke="#161616" stroke-width="3.3" stroke-linecap="butt"/>
<line x1="547.3" y1="1557.9" x2="564.5" y2="1557.9" stroke="#161616" stroke-width="3.2" stroke-linecap="butt"/>
<line x1="547.3" y1="1641.7" x2="564.5" y2="1641.7" stroke="#161616" stroke-width="3.2" stroke-linecap="butt"/>
<line x1="673.3" y1="1614.5" x2="673.3" y2="1680.5" stroke="#161616" stroke-width="3.3" stroke-linecap="butt"/>
<line x1="664.7" y1="1614.5" x2="681.9" y2="1614.5" stroke="#161616" stroke-width="3.2" stroke-linecap="butt"/>
<line x1="664.7" y1="1680.5" x2="681.9" y2="1680.5" stroke="#161616" stroke-width="3.2" stroke-linecap="butt"/>
<line x1="790.7" y1="1612.9" x2="790.7" y2="1691.7" stroke="#161616" stroke-width="3.3" stroke-linecap="butt"/>
<line x1="782.1" y1="1612.9" x2="799.3" y2="1612.9" stroke="#161616" stroke-width="3.2" stroke-linecap="butt"/>
<line x1="782.1" y1="1691.7" x2="799.3" y2="1691.7" stroke="#161616" stroke-width="3.2" stroke-linecap="butt"/>
<line x1="908.1" y1="1709" x2="908.1" y2="1745" stroke="#161616" stroke-width="3.3" stroke-linecap="butt"/>
<line x1="899.5" y1="1709" x2="916.7" y2="1709" stroke="#161616" stroke-width="3.2" stroke-linecap="butt"/>
<line x1="899.5" y1="1745" x2="916.7" y2="1745" stroke="#161616" stroke-width="3.2" stroke-linecap="butt"/>
<line x1="1025.5" y1="1681.3" x2="1025.5" y2="1776.7" stroke="#161616" stroke-width="3.3" stroke-linecap="butt"/>
<line x1="1016.9" y1="1681.3" x2="1034.1" y2="1681.3" stroke="#161616" stroke-width="3.2" stroke-linecap="butt"/>
<line x1="1016.9" y1="1776.7" x2="1034.1" y2="1776.7" stroke="#161616" stroke-width="3.2" stroke-linecap="butt"/>
<line x1="1142.9" y1="1686" x2="1142.9" y2="1788" stroke="#161616" stroke-width="3.3" stroke-linecap="butt"/>
<line x1="1134.3" y1="1686" x2="1151.5" y2="1686" stroke="#161616" stroke-width="3.2" stroke-linecap="butt"/>
<line x1="1134.3" y1="1788" x2="1151.5" y2="1788" stroke="#161616" stroke-width="3.2" stroke-linecap="butt"/>
<line x1="1260.3" y1="1715.8" x2="1260.3" y2="1819" stroke="#161616" stroke-width="3.3" stroke-linecap="butt"/>
<line x1="1251.7" y1="1715.8" x2="1268.9" y2="1715.8" stroke="#161616" stroke-width="3.2" stroke-linecap="butt"/>
<line x1="1251.7" y1="1819" x2="1268.9" y2="1819" stroke="#161616" stroke-width="3.2" stroke-linecap="butt"/>
<line x1="321.1" y1="1284.2" x2="321.1" y2="1426.4" stroke="#161616" stroke-width="3.3" stroke-linecap="butt"/>
<line x1="312.5" y1="1284.2" x2="329.7" y2="1284.2" stroke="#161616" stroke-width="3.2" stroke-linecap="butt"/>
<line x1="312.5" y1="1426.4" x2="329.7" y2="1426.4" stroke="#161616" stroke-width="3.2" stroke-linecap="butt"/>
<line x1="438.5" y1="1338.5" x2="438.5" y2="1526.6" stroke="#161616" stroke-width="3.3" stroke-linecap="butt"/>
<line x1="429.9" y1="1338.5" x2="447.1" y2="1338.5" stroke="#161616" stroke-width="3.2" stroke-linecap="butt"/>
<line x1="429.9" y1="1526.6" x2="447.1" y2="1526.6" stroke="#161616" stroke-width="3.2" stroke-linecap="butt"/>
<line x1="555.9" y1="1375.9" x2="555.9" y2="1588" stroke="#161616" stroke-width="3.3" stroke-linecap="butt"/>
<line x1="547.3" y1="1375.9" x2="564.5" y2="1375.9" stroke="#161616" stroke-width="3.2" stroke-linecap="butt"/>
<line x1="547.3" y1="1588" x2="564.5" y2="1588" stroke="#161616" stroke-width="3.2" stroke-linecap="butt"/>
<line x1="673.3" y1="1432.2" x2="673.3" y2="1654" stroke="#161616" stroke-width="3.3" stroke-linecap="butt"/>
<line x1="664.7" y1="1432.2" x2="681.9" y2="1432.2" stroke="#161616" stroke-width="3.2" stroke-linecap="butt"/>
<line x1="664.7" y1="1654" x2="681.9" y2="1654" stroke="#161616" stroke-width="3.2" stroke-linecap="butt"/>
<line x1="790.7" y1="1406.7" x2="790.7" y2="1604.5" stroke="#161616" stroke-width="3.3" stroke-linecap="butt"/>
<line x1="782.1" y1="1406.7" x2="799.3" y2="1406.7" stroke="#161616" stroke-width="3.2" stroke-linecap="butt"/>
<line x1="782.1" y1="1604.5" x2="799.3" y2="1604.5" stroke="#161616" stroke-width="3.2" stroke-linecap="butt"/>
<line x1="908.1" y1="1434.9" x2="908.1" y2="1615.5" stroke="#161616" stroke-width="3.3" stroke-linecap="butt"/>
<line x1="899.5" y1="1434.9" x2="916.7" y2="1434.9" stroke="#161616" stroke-width="3.2" stroke-linecap="butt"/>
<line x1="899.5" y1="1615.5" x2="916.7" y2="1615.5" stroke="#161616" stroke-width="3.2" stroke-linecap="butt"/>
<line x1="1025.5" y1="1497.1" x2="1025.5" y2="1662" stroke="#161616" stroke-width="3.3" stroke-linecap="butt"/>
<line x1="1016.9" y1="1497.1" x2="1034.1" y2="1497.1" stroke="#161616" stroke-width="3.2" stroke-linecap="butt"/>
<line x1="1016.9" y1="1662" x2="1034.1" y2="1662" stroke="#161616" stroke-width="3.2" stroke-linecap="butt"/>
<line x1="1142.9" y1="1508.7" x2="1142.9" y2="1675" stroke="#161616" stroke-width="3.3" stroke-linecap="butt"/>
<line x1="1134.3" y1="1508.7" x2="1151.5" y2="1508.7" stroke="#161616" stroke-width="3.2" stroke-linecap="butt"/>
<line x1="1134.3" y1="1675" x2="1151.5" y2="1675" stroke="#161616" stroke-width="3.2" stroke-linecap="butt"/>
<line x1="1260.3" y1="1558" x2="1260.3" y2="1698" stroke="#161616" stroke-width="3.3" stroke-linecap="butt"/>
<line x1="1251.7" y1="1558" x2="1268.9" y2="1558" stroke="#161616" stroke-width="3.2" stroke-linecap="butt"/>
<line x1="1251.7" y1="1698" x2="1268.9" y2="1698" stroke="#161616" stroke-width="3.2" stroke-linecap="butt"/>
</g>
<line x1="939.4" y1="1207.5" x2="979.2" y2="1207.5" stroke="#161616" stroke-width="1.4" stroke-linecap="butt"/>
<circle cx="959.3" cy="1207.5" r="7.57" fill="#161616"/>
<text font-size="46.3" font-weight="normal" text-anchor="start" fill="#161616" textLength="178" lengthAdjust="spacing" transform="translate(1000.5 1222.8) scale(1 1.05)">C57BL/6</text>
<line x1="939.4" y1="1254.9" x2="979.2" y2="1254.9" stroke="#161616" stroke-width="1.4" stroke-linecap="butt"/>
<circle cx="959.3" cy="1254.9" r="7.8" fill="none" stroke="#161616" stroke-width="2.9"/>
<text font-size="46.3" font-weight="normal" text-anchor="start" fill="#161616" textLength="268" lengthAdjust="spacing" transform="translate(1000.5 1270) scale(1 1.05)">C57BL/6+HS</text>
<line x1="939.4" y1="1298.9" x2="979.2" y2="1298.9" stroke="#161616" stroke-width="1.4" stroke-linecap="butt"/>
<polygon points="959.3,1292.19 967.66,1307.56 950.94,1307.56" fill="#161616"/>
<text font-size="46.3" font-weight="normal" text-anchor="start" fill="#161616" textLength="99" lengthAdjust="spacing" transform="translate(1000.5 1316.2) scale(1 1.05)">Fat-1</text>
<line x1="939.4" y1="1348.9" x2="979.2" y2="1348.9" stroke="#161616" stroke-width="1.4" stroke-linecap="butt"/>
<polygon points="959.3,1343.32 967.1,1355.75 951.5,1355.75" fill="none" stroke="#161616" stroke-width="2.7" stroke-linejoin="miter"/>
<text font-size="46.3" font-weight="normal" text-anchor="start" fill="#161616" textLength="195" lengthAdjust="spacing" transform="translate(1000.5 1365.3) scale(1 1.05)">Fat-1+HS</text>
</svg></body></html>
